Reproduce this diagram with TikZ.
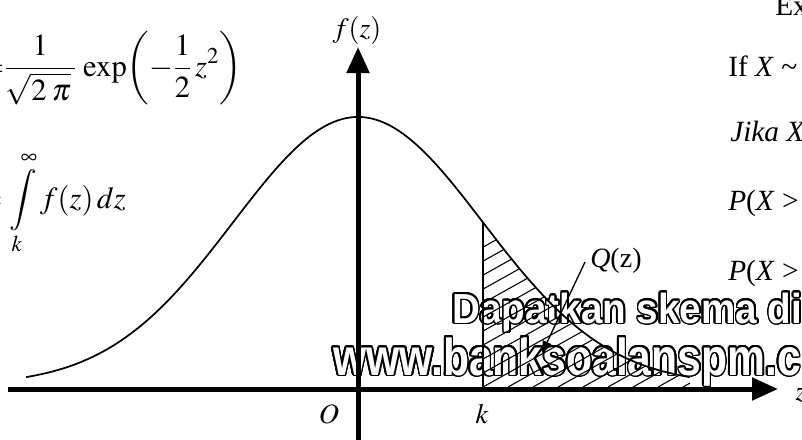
\documentclass[tikz,border=0pt]{standalone}
\usepackage{mathptmx}
\usepackage[no-math]{fontspec}
\setmainfont{Liberation Serif}
\newfontfamily\wmfont{Liberation Sans}
\usetikzlibrary{arrows.meta,calc}
\newcommand\wmA{\scalebox{0.92}[1]{\wmfont\bfseries\fontsize{31.5}{36}\selectfont Dapatkan skema di}}
\newcommand\wmB{\scalebox{0.82}[1]{\wmfont\bfseries\fontsize{39}{44}\selectfont www.banksoalanspm.c}}
\begin{document}
\begin{tikzpicture}[x=0.75pt,y=-0.75pt,
  axis/.style={line width=3.75pt,-{Triangle[length=19.5pt,width=16.5pt]}},
  curveline/.style={line width=1.3pt},
  hatchline/.style={line width=0.8pt},
  kline/.style={line width=1.1pt},
  qarrow/.style={line width=1pt,-{Triangle[length=9pt,width=7pt]}},
  lbl/.style={font=\fontsize{21}{25}\selectfont,inner sep=0pt},
  side/.style={font=\fontsize{22}{26}\selectfont,inner sep=0pt,anchor=base west},
  wm/.style={inner sep=0pt,anchor=base west},
  formula/.style={inner sep=0pt,anchor=base east}]
\useasboundingbox (0,0) rectangle (802,439);
% watermark (outlined text)
\foreach \a in {0,15,...,345}{
  \node[wm,text=black] at ($(452,323)+(\a:1.2pt)$) {\wmA};
  \node[wm,text=black] at ($(333,375)+(\a:1.2pt)$) {\wmB};
}
\node[wm,text=white] (wm1) at (452,323) {\wmA};
\node[wm,text=white] (wm2) at (333,375) {\wmB};
% hatching
\begin{scope}
  \clip (483,389) -- (483,222.5) -- plot[domain=483:690,samples=80] (\x,{385-268*exp(-0.5*((\x-358)/125)^2)}) -- (690,389) -- cycle;
  \foreach \i in {-10,...,10}
    \draw[hatchline] (483+25*\i,387) -- ++(320,-179);
\end{scope}
% curve
\draw[curveline] plot[domain=26:690,samples=200,smooth] (\x,{385-268*exp(-0.5*((\x-358)/125)^2)});
% k line
\coordinate (kb) at (483,389);
\coordinate (kt) at (483,222.5);
\draw[kline] (kb) -- (kt);
% axes
\coordinate (xl) at (8,389);
\coordinate (xr) at (778,389);
\coordinate (yb) at (358,445);
\coordinate (yt) at (358,47);
\draw[axis] (xl) -- (xr);
\draw[axis] (yb) -- (yt);
% labels
\node[lbl,anchor=base] (fz) at (357,37) {$f(z)$};
\node[lbl,anchor=base] (O) at (329,423) {$O$};
\node[lbl,anchor=base] (k) at (482,423) {$k$};
\node[lbl,anchor=base west] (z) at (795,400) {$z$};
\node[lbl,anchor=base west] (Q) at (590,267) {\textit{Q}(z)};
\coordinate (qs) at (585,262);
\coordinate (qtip) at (542,353);
\draw[qarrow] (qs) -- (qtip);
% formulas
\node[formula] (f1) at (242,76) {\fontsize{23}{27}\selectfont$\displaystyle =\mkern-4mu\frac{1}{\sqrt{2\mkern3mu\pi}\mkern2mu}\,\exp\!\left(-\frac{1}{2}\,z^{2}\right)$};
\node[formula] (f2) at (126,208) {\fontsize{23}{27}\selectfont$\displaystyle =\int\limits_{k}^{\infty} f(z)\,dz$};
% right column
\node[side] (ex) at (775,15) {Ex};
\node[side] (if) at (728,76) {If \textit{X} \textasciitilde};
\node[side] (jika) at (730,141) {\textit{Jika X}};
\node[side] (p1) at (728,210) {\textit{P}(\textit{X} >};
\node[side] (p2) at (728,280) {\textit{P}(\textit{X} >};
\end{tikzpicture}
\end{document}
